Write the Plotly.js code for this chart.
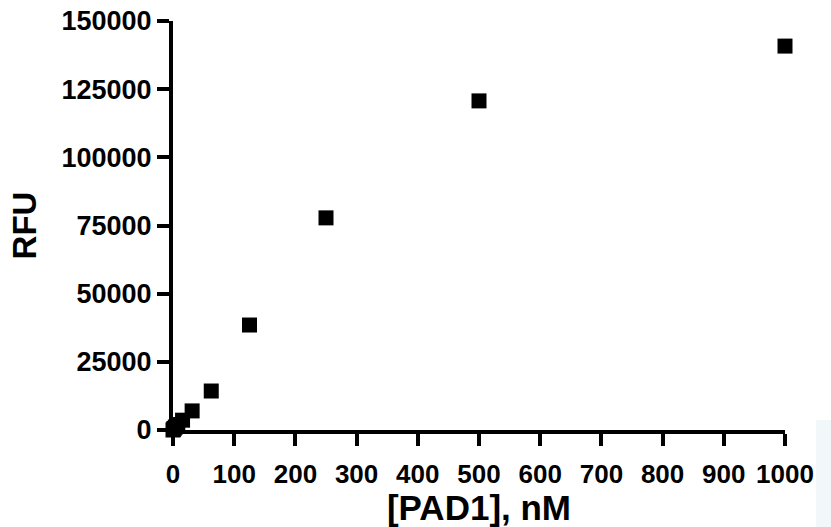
<!DOCTYPE html>
<html>
<head>
<meta charset="utf-8">
<script src="https://cdn.plot.ly/plotly-3.0.1.min.js"></script>
<style>html,body{margin:0;padding:0;background:#fff;}#chart{width:831px;height:527px;}</style>
</head>
<body>
<div id="chart"></div>
<script>
const concentration = [0, 0.98, 1.95, 3.9, 7.8, 15.6, 31.25, 62.5, 125, 250, 500, 1000];
const rfu = [0, 300, 600, 1100, 2000, 3600, 7000, 14300, 38500, 77800, 120700, 140800];
const xTicks = [0, 100, 200, 300, 400, 500, 600, 700, 800, 900, 1000];
const yTicks = [0, 25000, 50000, 75000, 100000, 125000, 150000];
const xLabel = '[PAD1], nM';
const yLabel = 'RFU';

const font = {family: 'Liberation Sans, Arial, sans-serif', color: '#000', weight: 'bold'};

const trace = {
  x: concentration, y: rfu, type: 'scatter', mode: 'markers',
  marker: {symbol: 'square', size: 15, color: '#000'},
  cliponaxis: false, hoverinfo: 'skip'
};

const axisCommon = {
  showline: true, linewidth: 4, linecolor: '#000', mirror: false,
  ticks: 'outside', ticklen: 12, tickwidth: 4, tickcolor: '#000',
  showgrid: false, zeroline: false, fixedrange: true
};

const layout = {
  width: 831, height: 527,
  margin: {l: 173, r: 46, t: 21, b: 97},
  paper_bgcolor: '#fff', plot_bgcolor: '#fff',
  showlegend: false,
  font: font,
  xaxis: Object.assign({}, axisCommon, {
    range: [0, 1000], tickvals: xTicks, ticktext: xTicks.map(String),
    tickfont: Object.assign({}, font, {size: 26}),
    ticklabelstandoff: 6,
    title: {text: xLabel, font: Object.assign({}, font, {size: 35}), standoff: 0}
  }),
  yaxis: Object.assign({}, axisCommon, {
    range: [0, 150000], tickvals: yTicks, ticktext: yTicks.map(String),
    tickfont: Object.assign({}, font, {size: 27}),
    title: {text: yLabel, font: Object.assign({}, font, {size: 33}), standoff: 16}
  }),
  shapes: [{
    type: 'rect', xref: 'paper', yref: 'paper',
    x0: 1.0507, x1: 1.08, y0: 0.0244, y1: -0.25,
    fillcolor: '#f2f7f9', line: {width: 0}, layer: 'below'
  }]
};

Plotly.newPlot('chart', [trace], layout, {displayModeBar: false, staticPlot: true});
</script>
</body>
</html>
